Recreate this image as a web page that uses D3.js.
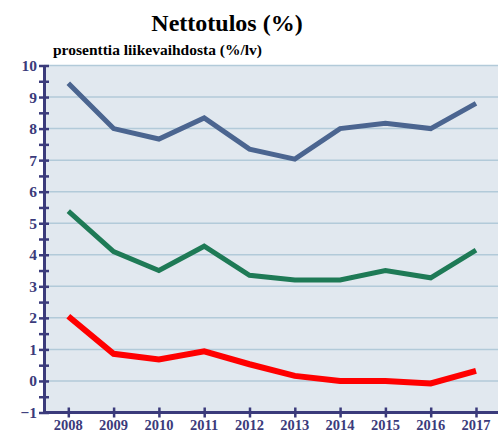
<!DOCTYPE html>
<html>
<head>
<meta charset="utf-8">
<script src="https://cdn.jsdelivr.net/npm/d3@7"></script>
<style>
  body { margin: 0; background: #fff; }
</style>
</head>
<body>
<div id="vis"></div>
<script>
// frame
const FRAME_WIDTH = 501;
const FRAME_HEIGHT = 430;
const MARGINS = {left: 44, right: 3, top: 65.5, bottom: 17.5};
const FONT = "'Liberation Serif', 'Times New Roman', Times, serif";

// data
const years = [2008, 2009, 2010, 2011, 2012, 2013, 2014, 2015, 2016, 2017];
const blueSeries = [9.44, 8.0, 7.67, 8.34, 7.35, 7.03, 8.0, 8.17, 8.0, 8.8];
const greenSeries = [5.38, 4.1, 3.5, 4.27, 3.35, 3.2, 3.2, 3.5, 3.27, 4.15];
const redSeries = [2.05, 0.86, 0.68, 0.94, 0.53, 0.16, 0.0, 0.0, -0.08, 0.32];
const yTicks = [-1, 0, 1, 2, 3, 4, 5, 6, 7, 8, 9, 10];

const AXIS_COLOR = "#3b3b7b";

const svg = d3.select("#vis")
  .append("svg")
    .attr("width", FRAME_WIDTH)
    .attr("height", FRAME_HEIGHT)
    .attr("font-family", FONT)
    .attr("font-weight", "bold");

const plotBottom = FRAME_HEIGHT - MARGINS.bottom;
const plotRight = FRAME_WIDTH - MARGINS.right;

// scales
const X_SCALE = d3.scaleLinear()
  .domain([2008, 2017])
  .range([68.3, 476]);

const Y_SCALE = d3.scaleLinear()
  .domain([-1, 10])
  .range([plotBottom, MARGINS.top]);

// background
svg.append("rect")
  .attr("x", MARGINS.left)
  .attr("y", MARGINS.top)
  .attr("width", plotRight - MARGINS.left)
  .attr("height", plotBottom - MARGINS.top)
  .attr("fill", "#e1e8ef");

// grid
svg.selectAll(".grid")
  .data(yTicks.filter(d => d > -1))
  .enter()
  .append("line")
    .attr("x1", MARGINS.left)
    .attr("x2", plotRight)
    .attr("y1", d => Y_SCALE(d))
    .attr("y2", d => Y_SCALE(d))
    .attr("stroke", "#b2cad9")
    .attr("stroke-width", 1.5);

// lines
const line = d3.line()
  .x((d, i) => X_SCALE(years[i]))
  .y(d => Y_SCALE(d));

const series = [
  {values: blueSeries, color: "#4b6590", width: 5},
  {values: greenSeries, color: "#1e7a56", width: 5},
  {values: redSeries, color: "#ff0000", width: 6}
];

svg.selectAll(".series")
  .data(series)
  .enter()
  .append("path")
    .attr("d", d => line(d.values))
    .attr("fill", "none")
    .attr("stroke", d => d.color)
    .attr("stroke-width", d => d.width)
    .attr("stroke-linejoin", "miter");

// y axis
const yAxis = svg.append("g")
  .attr("transform", "translate(" + MARGINS.left + ",0)")
  .call(d3.axisLeft(Y_SCALE)
    .tickValues(d3.range(-1, 10.01, 0.5))
    .tickSize(0)
    .tickFormat(""));
yAxis.select(".domain").attr("stroke", AXIS_COLOR).attr("stroke-width", 3);
yAxis.selectAll(".tick line")
  .attr("x1", -5).attr("x2", 5)
  .attr("stroke", AXIS_COLOR).attr("stroke-width", 2.5);

svg.selectAll(".ylabel")
  .data(yTicks)
  .enter()
  .append("text")
    .attr("x", 37)
    .attr("y", d => Y_SCALE(d) + 5.5)
    .attr("text-anchor", "end")
    .attr("font-size", 15.5)
    .attr("fill", AXIS_COLOR)
    .text(d => d < 0 ? "\u2212" + Math.abs(d) : d);

// x axis
const xAxis = svg.append("g")
  .attr("transform", "translate(0," + plotBottom + ")")
  .call(d3.axisBottom(X_SCALE)
    .tickValues(years)
    .tickSize(0)
    .tickFormat(""));
xAxis.select(".domain")
  .attr("d", "M" + MARGINS.left + ",0H" + plotRight)
  .attr("stroke", AXIS_COLOR).attr("stroke-width", 3);
xAxis.selectAll(".tick line")
  .attr("y1", -5).attr("y2", 5)
  .attr("stroke", AXIS_COLOR).attr("stroke-width", 2.5);

svg.selectAll(".xlabel")
  .data(years)
  .enter()
  .append("text")
    .attr("x", d => X_SCALE(d))
    .attr("y", 430)
    .attr("text-anchor", "middle")
    .attr("font-size", 14.5)
    .attr("fill", AXIS_COLOR)
    .text(d => d);

// titles
svg.append("text")
  .attr("x", 227)
  .attr("y", 31)
  .attr("text-anchor", "middle")
  .attr("font-size", 24)
  .attr("fill", "#000")
  .text("Nettotulos (%)");

svg.append("text")
  .attr("x", 53)
  .attr("y", 55)
  .attr("font-size", 15.5)
  .attr("fill", "#000")
  .text("prosenttia liikevaihdosta (%/lv)");
</script>
</body>
</html>
